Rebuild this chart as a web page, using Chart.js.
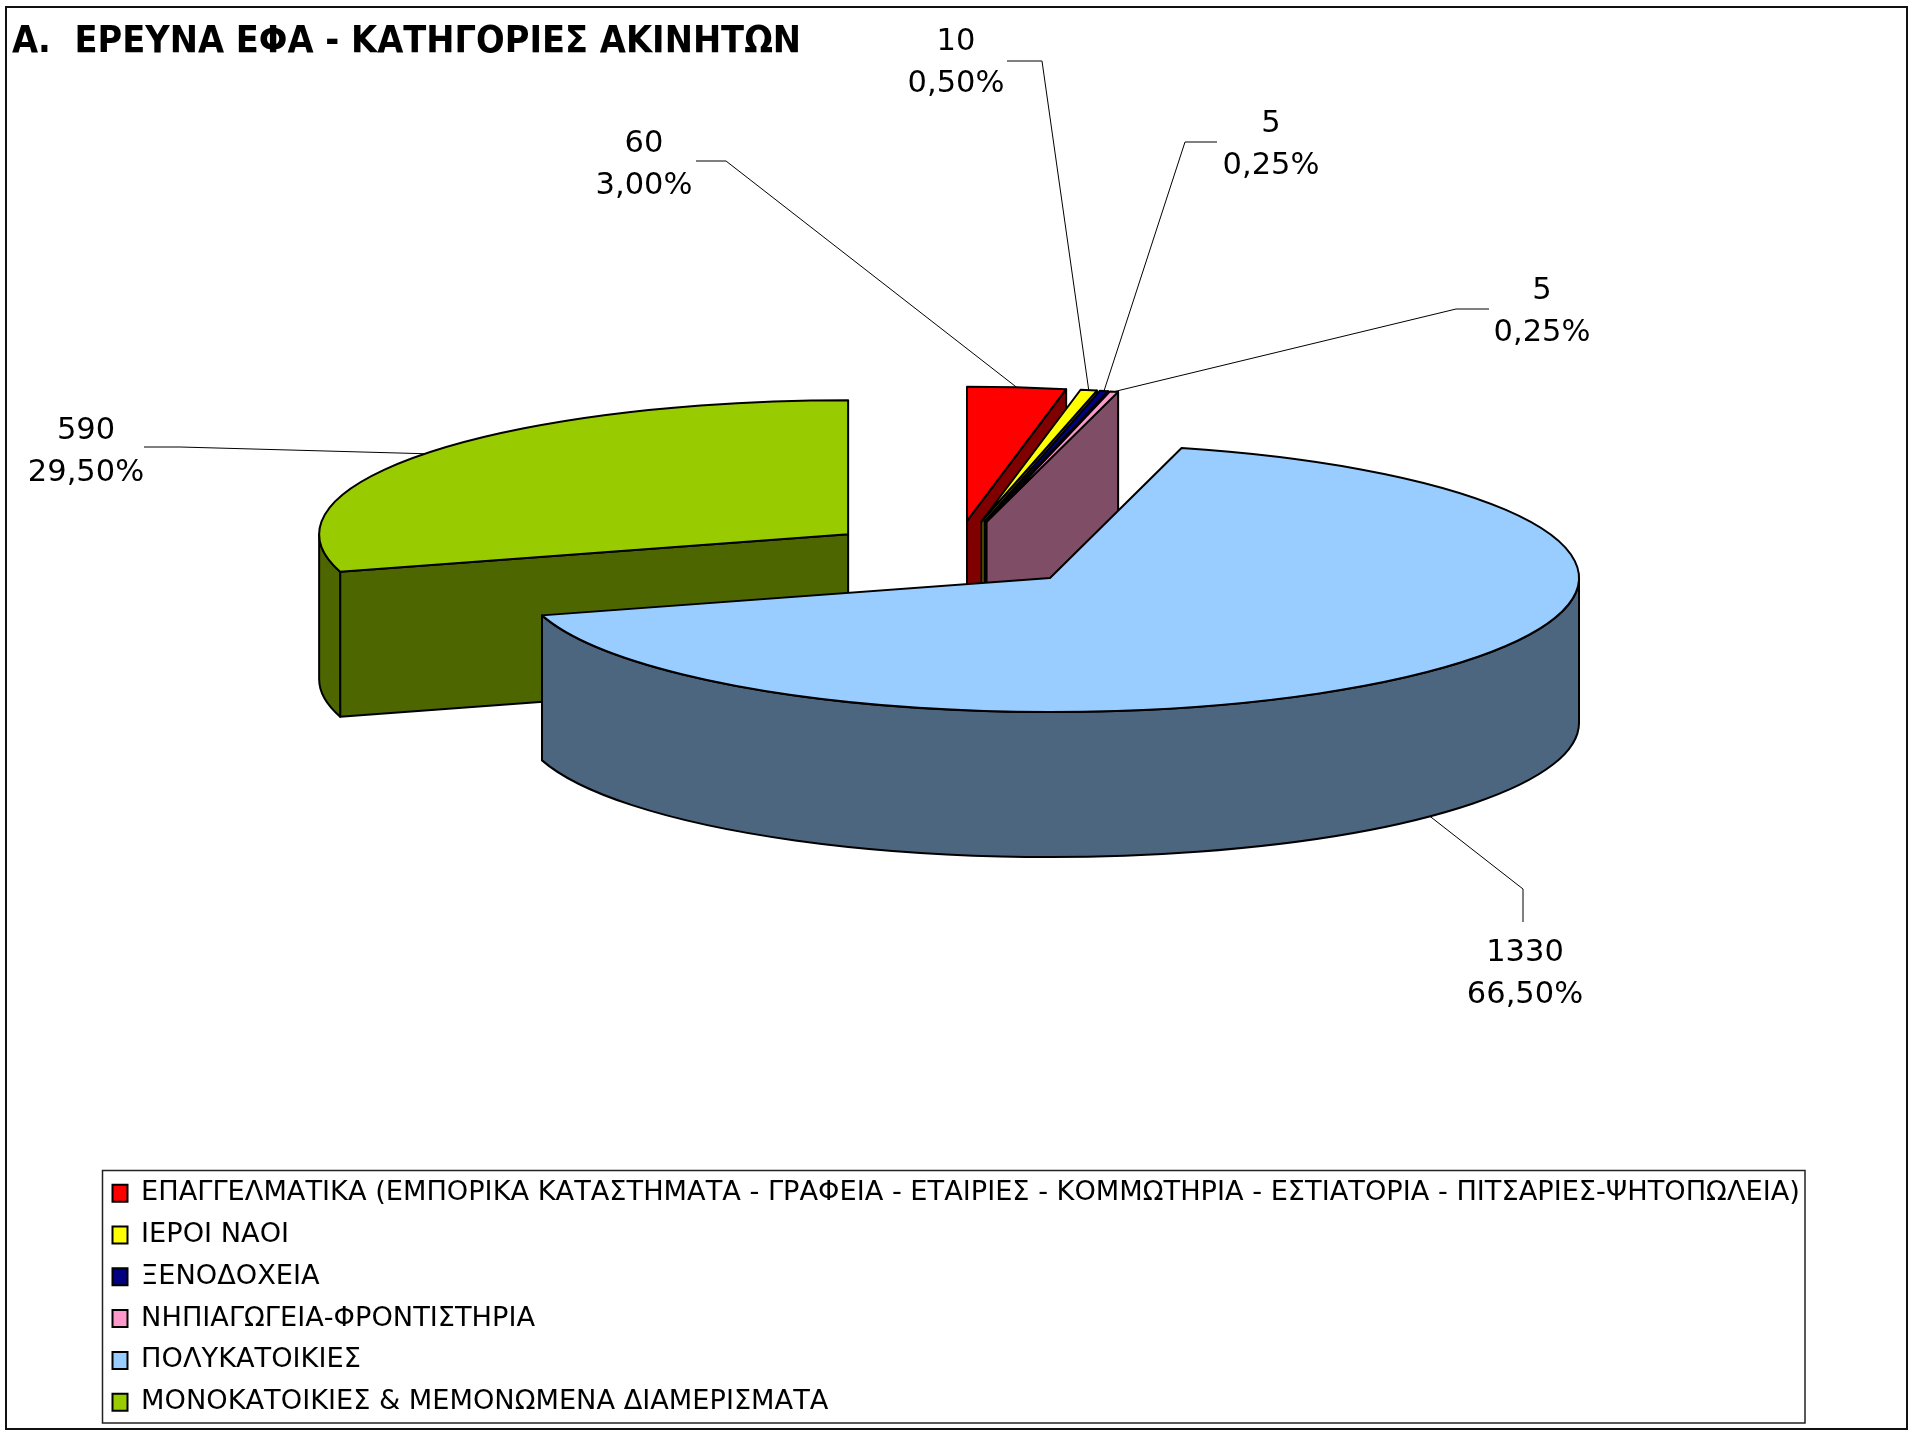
<!DOCTYPE html>
<html>
<head>
<meta charset="utf-8">
<title>Έρευνα ΕΦΑ</title>
<script src="https://cdn.jsdelivr.net/npm/chart.js@4/dist/chart.umd.min.js"></script>
<style>
  html, body { margin: 0; padding: 0; background: #fff; }
  canvas { display: block; }
</style>
</head>
<body>
<canvas id="graficoPie" width="1915" height="1438"></canvas>
<script>
const categories = [
    'ΕΠΑΓΓΕΛΜΑΤΙΚΑ (ΕΜΠΟΡΙΚΑ ΚΑΤΑΣΤΗΜΑΤΑ - ΓΡΑΦΕΙΑ - ΕΤΑΙΡΙΕΣ - ΚΟΜΜΩΤΗΡΙΑ - ΕΣΤΙΑΤΟΡΙΑ - ΠΙΤΣΑΡΙΕΣ-ΨΗΤΟΠΩΛΕΙΑ)',
    'ΙΕΡΟΙ ΝΑΟΙ',
    'ΞΕΝΟΔΟΧΕΙΑ',
    'ΝΗΠΙΑΓΩΓΕΙΑ-ΦΡΟΝΤΙΣΤΗΡΙΑ',
    'ΠΟΛΥΚΑΤΟΙΚΙΕΣ',
    'ΜΟΝΟΚΑΤΟΙΚΙΕΣ & ΜΕΜΟΝΩΜΕΝΑ ΔΙΑΜΕΡΙΣΜΑΤΑ'
];
const values = [60, 10, 5, 5, 1330, 590];
const sliceColors = ['#FF0000', '#FFFF00', '#000080', '#FF99CC', '#99CCFF', '#99CC00'];
const wallColors = ['#800000', '#808000', '#000040', '#804D66', '#4D6680', '#4D6600'];
const titleText = 'Α.  ΕΡΕΥΝΑ ΕΦΑ - ΚΑΤΗΓΟΡΙΕΣ ΑΚΙΝΗΤΩΝ';

// leader lines and label places, one per slice: elbow, end of line, label centre x, first line y
const callouts = [
    { elbow: [726, 161], end: [696, 161], x: 644, y: 144 },
    { elbow: [1042, 61], end: [1007, 61], x: 956, y: 42 },
    { elbow: [1185, 142], end: [1217, 142], x: 1271, y: 124 },
    { elbow: [1456, 309], end: [1489, 309], x: 1542, y: 291 },
    { elbow: [1523, 889], end: [1523, 922], x: 1525, y: 953 },
    { elbow: [180, 447], end: [144, 447], x: 86, y: 431 }
];

const FONT = '"DejaVu Sans", sans-serif';
const SQUASH = 0.2535;   // ellipse height / width
const DEPTH = 145;       // height of the pie wall
const paintOrder = [5, 0, 1, 2, 3, 4];   // back to front

const total = values.reduce((a, b) => a + b, 0);

function porcentaje(v) {
    return (v / total * 100).toFixed(2).replace('.', ',') + '%';
}

// geometry of one arc element, taken from what Chart.js computed
function geometria(arc) {
    const mid = (arc.startAngle + arc.endAngle) / 2;
    const d = arc.options.offset / 4;
    return {
        cx: arc.x + Math.cos(mid) * d,
        cy: arc.y + Math.sin(mid) * d * SQUASH,
        r: arc.outerRadius,
        s: arc.startAngle,
        e: arc.endAngle,
        mid: mid
    };
}

function pintar(ctx, fill) {
    ctx.fillStyle = fill;
    ctx.fill();
    ctx.stroke();
}

function paredRadial(ctx, g, t, fill) {
    const px = g.cx + g.r * Math.cos(t);
    const py = g.cy + g.r * SQUASH * Math.sin(t);
    ctx.beginPath();
    ctx.moveTo(g.cx, g.cy);
    ctx.lineTo(px, py);
    ctx.lineTo(px, py + DEPTH);
    ctx.lineTo(g.cx, g.cy + DEPTH);
    ctx.closePath();
    pintar(ctx, fill);
}

const pie3d = {
    id: 'pie3d',
    beforeDraw(chart) {
        const ctx = chart.ctx;
        ctx.save();
        ctx.fillStyle = '#fff';
        ctx.fillRect(0, 0, chart.width, chart.height);
        ctx.strokeStyle = '#111';
        ctx.lineWidth = 2;
        ctx.strokeRect(6, 7, 1901, 1422);
        ctx.lineWidth = 1.5;
        ctx.strokeStyle = '#222';
        ctx.strokeRect(102.5, 1170.5, 1702.5, 252.5);
        ctx.restore();
    },
    afterLayout(chart) {
        // the legend sits in its own box under the pie
        const legend = chart.legend;
        legend.left = 97.9;
        legend.right = 1805;
        legend.top = 1165;
        legend.bottom = 1437;
        legend.width = legend.right - legend.left;
        legend.height = legend.bottom - legend.top;
    },
    beforeDatasetsDraw(chart) {
        const ctx = chart.ctx;
        const arcs = chart.getDatasetMeta(0).data;
        ctx.save();
        ctx.strokeStyle = '#000';
        ctx.lineWidth = 2;
        ctx.lineJoin = 'round';

        paintOrder.forEach(i => {
            const g = geometria(arcs[i]);
            const wall = wallColors[i];
            if (Math.cos(g.s) < -1e-6) paredRadial(ctx, g, g.s, wall);
            if (Math.cos(g.e) > 1e-6) paredRadial(ctx, g, g.e, wall);

            // curved wall, only the front half can be seen
            const a = Math.max(g.s, 0);
            const b = Math.min(g.e, Math.PI);
            if (a < b) {
                ctx.beginPath();
                ctx.ellipse(g.cx, g.cy, g.r, g.r * SQUASH, 0, a, b);
                ctx.ellipse(g.cx, g.cy + DEPTH, g.r, g.r * SQUASH, 0, b, a, true);
                ctx.closePath();
                pintar(ctx, wall);
            }

            ctx.beginPath();
            ctx.moveTo(g.cx, g.cy);
            ctx.ellipse(g.cx, g.cy, g.r, g.r * SQUASH, 0, g.s, g.e);
            ctx.closePath();
            pintar(ctx, sliceColors[i]);
        });

        // leader lines and value labels
        ctx.lineWidth = 1;
        ctx.strokeStyle = '#000';
        ctx.fillStyle = '#000';
        ctx.font = '30.5px ' + FONT;
        ctx.textAlign = 'center';
        ctx.textBaseline = 'middle';
        callouts.forEach((c, i) => {
            const g = geometria(arcs[i]);
            const ax = g.cx + g.r * Math.cos(g.mid);
            let ay = g.cy + g.r * SQUASH * Math.sin(g.mid);
            if (Math.sin(g.mid) > 0) ay += DEPTH;
            ctx.beginPath();
            ctx.moveTo(ax, ay);
            ctx.lineTo(c.elbow[0], c.elbow[1]);
            ctx.lineTo(c.end[0], c.end[1]);
            ctx.stroke();
            ctx.fillText(String(values[i]), c.x, c.y);
            ctx.fillText(porcentaje(values[i]), c.x, c.y + 42);
        });
        ctx.restore();
        return false;
    }
};

const ctx = document.getElementById('graficoPie').getContext('2d');
new Chart(ctx, {
    type: 'pie',
    data: {
        labels: categories,
        datasets: [{
            data: values,
            backgroundColor: sliceColors,
            borderColor: '#000',
            borderWidth: 2,
            offset: 532,
            radius: 529
        }]
    },
    options: {
        responsive: false,
        animation: false,
        layout: { padding: { left: 12, right: 18, top: 20, bottom: 394 } },
        plugins: {
            title: {
                display: true,
                text: titleText,
                align: 'start',
                color: '#000',
                padding: 0,
                font: { family: '"DejaVu Sans Condensed", "DejaVu Sans", sans-serif', size: 37.5, weight: 'bold', lineHeight: 1.2 }
            },
            legend: {
                display: true,
                position: 'chartArea',
                align: 'start',
                labels: {
                    color: '#000',
                    boxWidth: 15,
                    boxHeight: 17,
                    padding: 14.6,
                    font: { family: FONT, size: 27.2 }
                }
            },
            tooltip: { enabled: false }
        }
    },
    plugins: [pie3d]
});
</script>
</body>
</html>
